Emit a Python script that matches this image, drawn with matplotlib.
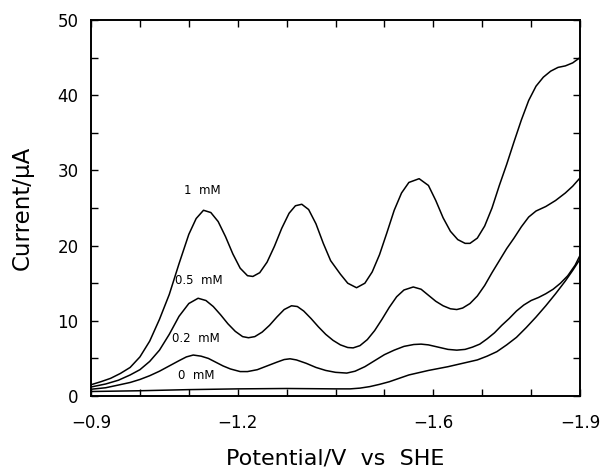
import numpy as np
import matplotlib.pyplot as plt
from matplotlib.ticker import MultipleLocator, FixedFormatter, FixedLocator

# potenziale (V vs SHE) e corrente (uA)
E_1mM = [-0.90, -0.92, -0.94, -0.96, -0.98, -1.00, -1.02, -1.04, -1.06, -1.08, -1.10, -1.115, -1.13,
         -1.145, -1.16, -1.175, -1.19, -1.205, -1.22, -1.231, -1.245, -1.26, -1.275, -1.29, -1.305,
         -1.318, -1.331, -1.345, -1.36, -1.375, -1.39, -1.41, -1.425, -1.443, -1.46, -1.475, -1.49,
         -1.505, -1.52, -1.535, -1.55, -1.571, -1.59, -1.605, -1.62, -1.635, -1.65, -1.665, -1.675,
         -1.69, -1.705, -1.72, -1.735, -1.75, -1.765, -1.78, -1.795, -1.81, -1.825, -1.84, -1.855,
         -1.87, -1.885, -1.90]
I_1mM = [1.5, 1.9, 2.35, 3.0, 3.8, 5.2, 7.3, 10.2, 13.5, 17.6, 21.5, 23.6, 24.7,
         24.4, 23.2, 21.2, 18.9, 17.0, 16.0, 15.9, 16.4, 17.8, 19.9, 22.3, 24.3,
         25.3, 25.5, 24.8, 22.9, 20.3, 18.0, 16.2, 15.0, 14.4, 15.0, 16.5, 18.8,
         21.7, 24.7, 27.0, 28.4, 28.9, 28.0, 26.0, 23.7, 21.9, 20.8, 20.3, 20.3,
         21.0, 22.6, 25.0, 28.0, 30.8, 33.8, 36.7, 39.3, 41.2, 42.4, 43.2, 43.7,
         43.9, 44.3, 45.0]

E_05mM = [-0.90, -0.93, -0.956, -0.98, -1.00, -1.02, -1.04, -1.06, -1.08, -1.10, -1.119, -1.135,
          -1.15, -1.165, -1.18, -1.195, -1.21, -1.222, -1.235, -1.25, -1.265, -1.28, -1.295, -1.31,
          -1.322, -1.335, -1.35, -1.365, -1.38, -1.395, -1.41, -1.425, -1.436, -1.45, -1.465, -1.48,
          -1.495, -1.51, -1.525, -1.54, -1.559, -1.575, -1.59, -1.605, -1.62, -1.635, -1.648, -1.66,
          -1.675, -1.69, -1.705, -1.72, -1.735, -1.75, -1.765, -1.78, -1.795, -1.81, -1.83, -1.85,
          -1.87, -1.885, -1.90]
I_05mM = [1.2, 1.6, 2.1, 2.8, 3.5, 4.6, 6.1, 8.2, 10.6, 12.3, 13.0, 12.7,
          11.9, 10.8, 9.6, 8.6, 7.9, 7.75, 7.9, 8.5, 9.4, 10.5, 11.5, 12.0,
          11.9, 11.3, 10.3, 9.2, 8.2, 7.4, 6.8, 6.45, 6.4, 6.7, 7.5, 8.7,
          10.2, 11.8, 13.2, 14.1, 14.5, 14.2, 13.4, 12.6, 12.0, 11.6, 11.5, 11.7,
          12.3, 13.3, 14.7, 16.4, 18.0, 19.6, 21.0, 22.5, 23.8, 24.6, 25.2, 26.0,
          27.0, 27.9, 29.0]

E_02mM = [-0.90, -0.93, -0.956, -0.98, -1.00, -1.02, -1.04, -1.06, -1.08, -1.095, -1.109, -1.125,
          -1.14, -1.155, -1.17, -1.185, -1.205, -1.22, -1.24, -1.26, -1.28, -1.295, -1.307, -1.32,
          -1.34, -1.36, -1.38, -1.40, -1.423, -1.44, -1.46, -1.48, -1.50, -1.52, -1.54, -1.56,
          -1.575, -1.59, -1.61, -1.63, -1.648, -1.665, -1.68, -1.695, -1.71, -1.725, -1.74, -1.755,
          -1.77, -1.785, -1.80, -1.815, -1.83, -1.845, -1.86, -1.875, -1.89, -1.90]
I_02mM = [0.9, 1.1, 1.46, 1.8, 2.2, 2.7, 3.3, 4.0, 4.7, 5.2, 5.45, 5.3,
          5.0, 4.5, 4.0, 3.6, 3.25, 3.25, 3.5, 4.0, 4.5, 4.85, 4.95, 4.8,
          4.35, 3.8, 3.4, 3.15, 3.05, 3.3, 3.9, 4.7, 5.5, 6.1, 6.6, 6.85,
          6.9, 6.8, 6.5, 6.2, 6.1, 6.2, 6.5, 6.9, 7.6, 8.4, 9.4, 10.3,
          11.3, 12.1, 12.7, 13.1, 13.6, 14.2, 15.0, 16.0, 17.4, 18.7]

E_0mM = [-0.90, -1.00, -1.10, -1.20, -1.30, -1.40, -1.43, -1.45, -1.47, -1.49, -1.51, -1.53,
         -1.55, -1.57, -1.59, -1.61, -1.63, -1.65, -1.67, -1.69, -1.71, -1.73, -1.75, -1.77,
         -1.79, -1.81, -1.83, -1.85, -1.87, -1.885, -1.90]
I_0mM = [0.6, 0.7, 0.85, 0.95, 1.0, 0.95, 0.95, 1.05, 1.25, 1.55, 1.9, 2.35,
         2.8, 3.1, 3.4, 3.65, 3.9, 4.2, 4.5, 4.8, 5.3, 5.9, 6.8, 7.8,
         9.1, 10.5, 12.0, 13.6, 15.3, 16.7, 18.2]

etichette = ['1  mM', '0.5  mM', '0.2  mM', '0  mM']
pos_etichette = [(-1.127, 26.5), (-1.120, 14.5), (-1.115, 6.8), (-1.115, 1.9)]

fig = plt.figure(figsize=(6, 4.71), dpi=100)
ax = fig.add_axes([0.1517, 0.1592, 0.815, 0.7983])

for E, I in [(E_1mM, I_1mM), (E_05mM, I_05mM), (E_02mM, I_02mM), (E_0mM, I_0mM)]:
    ax.plot(E, I, color='black', linewidth=1.1)

for testo, (x, y) in zip(etichette, pos_etichette):
    ax.text(x, y, testo, fontsize=8.5, ha='center', va='bottom')

ax.set_xlim(-0.9, -1.9)
ax.set_ylim(0, 50)

# tacche: ogni 0.1 V, etichette solo su alcune
xt = np.round(np.arange(-0.9, -1.95, -0.1), 1)
ax.xaxis.set_major_locator(FixedLocator(xt))
ax.xaxis.set_major_formatter(FixedFormatter(
    ['\u22120.9' if v == -0.9 else '\u22121.2' if v == -1.2 else '\u22121.6' if v == -1.6
     else '\u22121.9' if v == -1.9 else '' for v in xt]))
ax.yaxis.set_major_locator(MultipleLocator(5))
ax.yaxis.set_major_formatter(FixedFormatter(['', '0', '', '10', '', '20', '', '30', '', '40', '', '50']))

ax.tick_params(direction='in', length=5, width=1, top=True, right=True, labelsize=12)
ax.tick_params(axis='x', pad=13)
ax.tick_params(axis='y', pad=9)
for s in ax.spines.values():
    s.set_linewidth(1.4)

ax.set_xlabel('Potential/V  vs  SHE', fontsize=16, labelpad=12)
ax.set_ylabel('Current/μA', fontsize=16.5, labelpad=17)

plt.savefig('out.png', dpi=100)
